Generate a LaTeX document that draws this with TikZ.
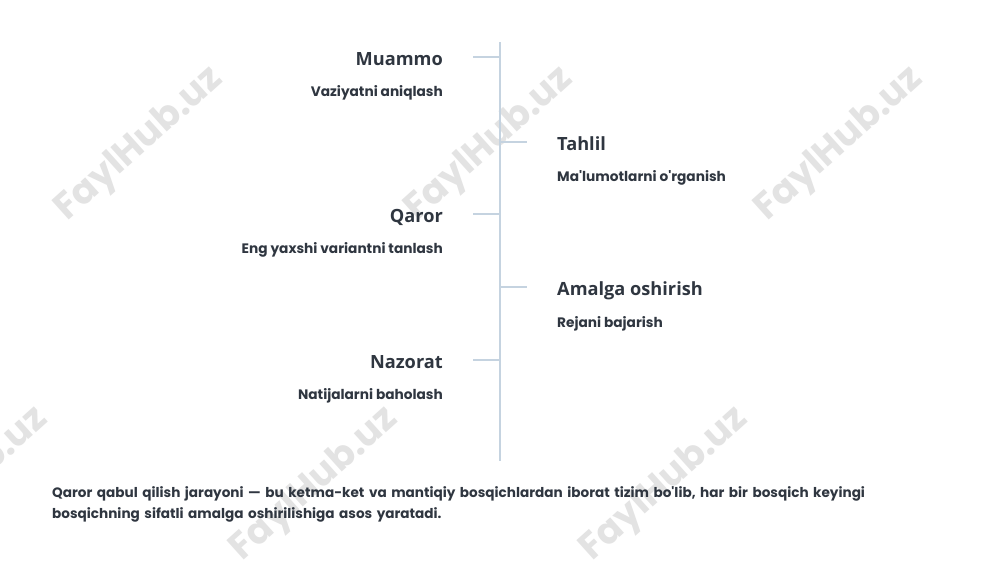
\documentclass[tikz,border=0pt]{standalone}
\usepackage{fontspec}
\setmainfont{Open Sans}
\newfontfamily\descfont{Poppins}
\newfontfamily\wmfont{Poppins}
\definecolor{txt}{HTML}{2F3640}
\definecolor{axis}{HTML}{C5D3E0}
\definecolor{wm}{HTML}{E3E3E3}
\begin{document}
\begin{tikzpicture}[x=1pt,y=-1pt,
  title/.style={font=\fontsize{18.2}{22}\selectfont\bfseries, text=txt, inner sep=0pt},
  desc/.style={font=\descfont\fontsize{13.7}{16}\selectfont\bfseries, text=txt, inner sep=0pt},
  para/.style={font=\descfont\fontsize{13.6}{21}\selectfont\bfseries, text=txt, inner sep=0pt, align=left, text width=900pt},
  tick/.style={draw=axis, line width=1.2pt},
  wmark/.style={font=\wmfont\fontsize{37}{37}\selectfont\bfseries, text=wm, rotate=42, inner sep=0pt}
]
\useasboundingbox[fill=white] (0,0) rectangle (1000,563);
% watermarks
\foreach \p/\q in {140/145, 490/145, 840/145, -35/485, 315/485, 665/485}
  \node[wmark] at (\p,\q) {FaylHub.uz};
% axis
\coordinate (top) at (500,42);
\coordinate (bot) at (500,461);
\draw[tick] (top) -- (bot);
\coordinate (m1) at (500,57);  \coordinate (m1e) at (473,57);
\coordinate (m2) at (500,142); \coordinate (m2e) at (527,142);
\coordinate (m3) at (500,214); \coordinate (m3e) at (473,214);
\coordinate (m4) at (500,287); \coordinate (m4e) at (527,287);
\coordinate (m5) at (500,360); \coordinate (m5e) at (473,360);
\draw[tick] (m1) -- (m1e);
\draw[tick] (m2) -- (m2e);
\draw[tick] (m3) -- (m3e);
\draw[tick] (m4) -- (m4e);
\draw[tick] (m5) -- (m5e);
% left items
\node[title, anchor=base east] (t1) at (443,65) {Muammo};
\node[desc, anchor=base east] (d1) at (443,96) {Vaziyatni aniqlash};
\node[title, anchor=base east] (t3) at (443,222) {Qaror};
\node[desc, anchor=base east] (d3) at (443,253) {Eng yaxshi variantni tanlash};
\node[title, anchor=base east] (t5) at (443,368) {Nazorat};
\node[desc, anchor=base east] (d5) at (443,399) {Natijalarni baholash};
% right items
\node[title, anchor=base west] (t2) at (557,150) {Tahlil};
\node[desc, anchor=base west] (d2) at (557,181) {Ma'lumotlarni o'rganish};
\node[title, anchor=base west] (t4) at (557,295) {Amalga oshirish};
\node[desc, anchor=base west] (d4) at (557,327) {Rejani bajarish};
% paragraph
\node[para, anchor=north west] (p) at (52,486) {Qaror qabul qilish jarayoni — bu ketma-ket va mantiqiy bosqichlardan iborat tizim bo'lib, har bir bosqich keyingi\\bosqichning sifatli amalga oshirilishiga asos yaratadi.};
\end{tikzpicture}
\end{document}
